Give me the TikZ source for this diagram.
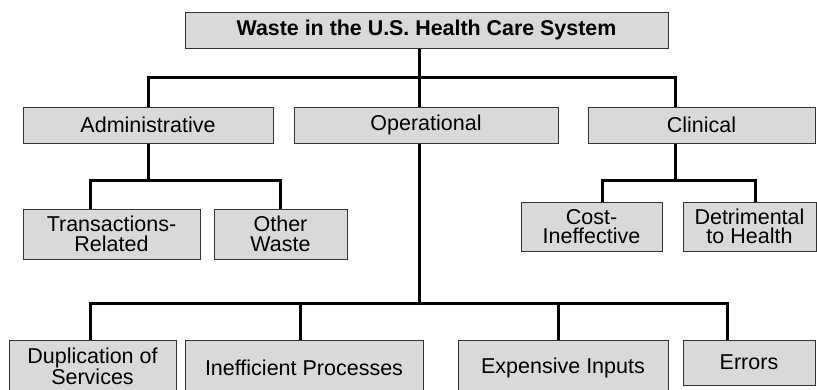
\documentclass[tikz,border=0pt]{standalone}
\usepackage{fontspec}
\setmainfont{Liberation Sans}
\usepackage{tikz}
\usepackage{xcolor}

\begin{document}
\begin{tikzpicture}[
    x=1pt, y=-1pt,
    box/.style={rectangle, draw=black!80, line width=1pt, fill=black!15, inner sep=0pt,
        align=center, font=\fontsize{21.5}{19.5}\selectfont},
    conn/.style={line width=3pt, black, line join=miter}
]
    \useasboundingbox (0,0) rectangle (817,389);
    \clip (0,0) rectangle (817,389);

    % Root
    \node[box, minimum width=483pt, minimum height=36pt, font=\fontsize{21.4}{19.5}\selectfont\bfseries]
        (root) at (426.5,30) {Waste in the U.S. Health Care System};

    % Main categories
    \node[box, minimum width=250pt, minimum height=36pt] (adm) at (148,125) {Administrative};
    \node[box, minimum width=264pt, minimum height=36pt] (ope) at (426,125) {Operational};
    \node[box, minimum width=227pt, minimum height=36pt] (cli) at (701.5,125) {Clinical};

    % Administrative and clinical subcategories
    \node[box, minimum width=177pt, minimum height=50pt] (trans) at (111.5,234) {Transactions-\\Related};
    \node[box, minimum width=133pt, minimum height=50pt] (other) at (280.5,234) {Other\\Waste};
    \node[box, minimum width=141pt, minimum height=49pt] (cost) at (591.5,226.5) {Cost-\\Ineffective};
    \node[box, minimum width=133pt, minimum height=49pt] (detr) at (749.5,226.5) {Detrimental\\to Health};

    % Operational subcategories
    \node[box, minimum width=167pt, minimum height=52pt] (dup) at (92.5,366) {Duplication of\\Services};
    \node[box, minimum width=238pt, minimum height=56pt] (ineff) at (304,368) {Inefficient Processes};
    \node[box, minimum width=210pt, minimum height=56pt] (exp) at (563,368) {Expensive Inputs};
    \node[box, minimum width=132pt, minimum height=45pt] (err) at (749,362.5) {Errors};

    % Junctions
    \coordinate (j0) at (419,77);
    \coordinate (j1) at (148,180);
    \coordinate (j2) at (675,180);
    \coordinate (j3) at (419,303);

    % Edges
    \draw[conn] (root.south -| j0) -- (j0);
    \draw[conn] (adm.north) |- (j0) -| (cli.north -| j2);
    \draw[conn] (j0) -- (ope.north -| j0);
    \draw[conn] (adm.south) -- (j1);
    \draw[conn] ([xshift=-21.5pt]trans.north) |- (j1) -| (other.north);
    \draw[conn] (cli.south -| j2) -- (j2);
    \draw[conn] ([xshift=10.5pt]cost.north) |- (j2) -| ([xshift=5.5pt]detr.north);
    \draw[conn] (ope.south -| j3) -- (j3);
    \draw[conn] ([xshift=-2.5pt]dup.north) |- (j3) -| ([xshift=-22pt]err.north);
    \draw[conn] ([xshift=-4pt]ineff.north) -- ++(0,-37);
    \draw[conn] ([xshift=-5pt]exp.north) -- ++(0,-37);
\end{tikzpicture}
\end{document}
